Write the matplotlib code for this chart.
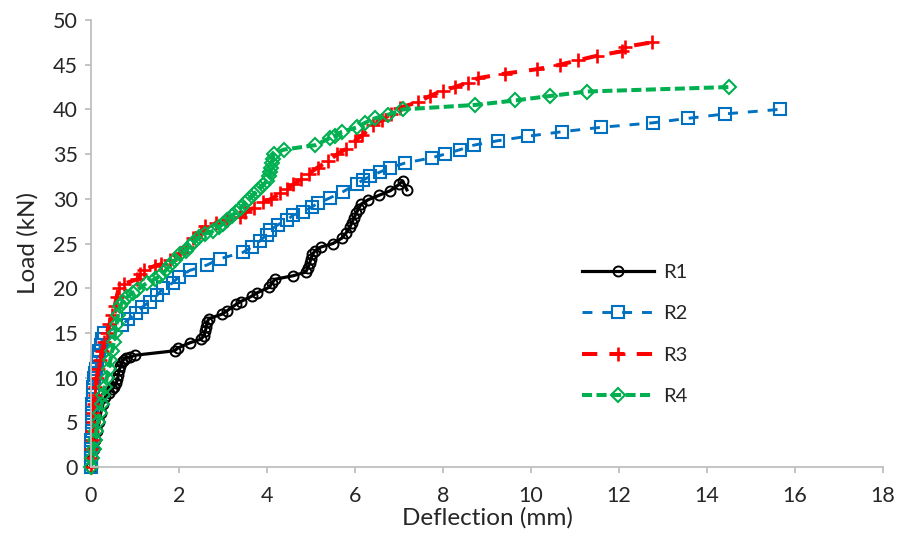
import matplotlib
matplotlib.use("Agg")
import matplotlib.pyplot as plt

plt.rcParams['font.family'] = ['Lato', 'DejaVu Sans']

# Load-deflection readings (deflection in mm, load in kN)
r1 = [(0, 0), (0.03, 1), (0.06, 2), (0.1, 3), (0.14, 4), (0.18, 5), (0.22, 6), (0.27, 7),
      (0.32, 7.8), (0.4, 8.3), (0.47, 8.7), (0.52, 9), (0.57, 9.4), (0.6, 9.8), (0.62, 10.3),
      (0.64, 10.8), (0.67, 11.3), (0.7, 11.7), (0.74, 12), (0.8, 12.2), (0.89, 12.3), (1.0, 12.5),
      (1.9, 13), (1.97, 13.3), (2.25, 13.9), (2.5, 14.3), (2.57, 14.7), (2.6, 15.2), (2.62, 15.7),
      (2.64, 16.2), (2.68, 16.6), (2.98, 17.1), (3.1, 17.5), (3.3, 18.2), (3.4, 18.5), (3.65, 19.1),
      (3.78, 19.5), (4.05, 20.1), (4.12, 20.6), (4.18, 21), (4.6, 21.4), (4.88, 21.8), (4.93, 22.3),
      (4.97, 22.8), (5.0, 23.3), (5.03, 23.8), (5.1, 24.2), (5.22, 24.6), (5.5, 25), (5.7, 25.6),
      (5.8, 26.2), (5.88, 26.8), (5.93, 27.3), (5.98, 27.9), (6.03, 28.4), (6.08, 28.9),
      (6.14, 29.4), (6.3, 29.9), (6.55, 30.4), (6.8, 30.9), (7.0, 31.6), (7.08, 32), (7.18, 31)]

r2 = [(0, 0), (0, 1), (0.01, 2), (0.01, 3), (0.02, 4), (0.02, 5), (0.03, 6), (0.03, 7),
      (0.04, 8), (0.05, 9), (0.07, 10), (0.09, 10.5), (0.11, 11), (0.13, 11.8), (0.16, 12.5),
      (0.19, 13), (0.22, 13.7), (0.26, 14.3), (0.3, 15), (0.7, 15.9), (0.85, 16.5), (1.02, 17.2),
      (1.17, 17.9), (1.33, 18.5), (1.5, 19.2), (1.64, 20), (1.86, 20.6), (2.0, 21.3), (2.25, 22),
      (2.64, 22.6), (2.93, 23.3), (3.45, 24), (3.66, 24.6), (3.84, 25.3), (4.0, 26), (4.07, 26.5),
      (4.25, 27.1), (4.45, 27.6), (4.6, 28.2), (4.82, 28.5), (5.02, 29.1), (5.16, 29.5),
      (5.43, 30.1), (5.73, 30.8), (6.05, 31.7), (6.18, 32.1), (6.34, 32.5), (6.57, 33),
      (6.8, 33.5), (7.14, 34), (7.75, 34.6), (8.05, 35), (8.39, 35.5), (8.7, 36), (9.25, 36.5),
      (9.93, 37), (10.7, 37.5), (11.6, 38), (12.77, 38.5), (13.57, 39), (14.42, 39.5), (15.65, 40)]

r3 = [(0, 0), (0, 1), (0.01, 2), (0.02, 3), (0.03, 4), (0.04, 5), (0.05, 6), (0.06, 7),
      (0.08, 8), (0.1, 9), (0.13, 10), (0.16, 11), (0.2, 12), (0.25, 13), (0.3, 14), (0.36, 15),
      (0.42, 16), (0.48, 17), (0.54, 18), (0.58, 19), (0.63, 20), (0.75, 20.5), (1.05, 21),
      (1.12, 21.6), (1.2, 22), (1.45, 22.5), (1.6, 22.7), (1.8, 23.2), (2.02, 23.9), (2.18, 24.6),
      (2.32, 25.6), (2.5, 26.3), (2.6, 27), (2.85, 27.3), (3.1, 27.6), (3.39, 28), (3.5, 28.5),
      (3.7, 29), (3.9, 29.6), (4.1, 30), (4.3, 30.6), (4.45, 31.1), (4.6, 31.6), (4.78, 32.2),
      (4.95, 32.8), (5.15, 33.5), (5.38, 34.2), (5.6, 35), (5.8, 35.6), (6.0, 36.5), (6.16, 37.1),
      (6.41, 38.2), (6.61, 38.8), (6.82, 39.5), (7.02, 40.2), (7.43, 40.8), (7.7, 41.5),
      (8.0, 42.1), (8.27, 42.5), (8.57, 43), (8.8, 43.5), (9.4, 44), (10.14, 44.5), (10.66, 45),
      (11.07, 45.5), (11.5, 46), (12.07, 46.5), (12.14, 47), (12.75, 47.5)]

r4 = [(0, 0), (0.03, 1), (0.06, 2), (0.09, 3), (0.12, 4), (0.16, 5), (0.2, 6), (0.24, 7),
      (0.28, 8), (0.32, 9), (0.36, 10), (0.4, 11), (0.44, 12), (0.48, 13), (0.52, 14), (0.55, 15),
      (0.58, 16), (0.61, 17), (0.66, 18), (0.72, 18.5), (0.82, 19), (0.95, 19.5), (1.05, 19.8),
      (1.27, 20.6), (1.45, 21), (1.57, 21.4), (1.7, 22), (1.8, 22.6), (1.92, 23.2), (2.02, 23.8),
      (2.15, 24.2), (2.25, 24.7), (2.35, 25.2), (2.45, 25.7), (2.6, 26.1), (2.77, 26.4),
      (2.9, 26.8), (3.0, 27.2), (3.1, 27.6), (3.2, 28.1), (3.3, 28.5), (3.4, 29), (3.5, 29.5),
      (3.6, 30), (3.7, 30.5), (3.8, 31), (3.9, 31.5), (4.0, 32), (4.05, 32.5), (4.07, 33),
      (4.09, 33.5), (4.11, 34), (4.13, 34.5), (4.15, 35), (4.38, 35.5), (5.1, 36), (5.43, 36.8),
      (5.55, 37), (5.7, 37.5), (6.05, 38), (6.23, 38.5), (6.45, 39), (6.75, 39.4), (7.09, 40),
      (8.73, 40.5), (9.64, 41), (10.43, 41.5), (11.27, 42), (14.5, 42.5)]

labels = ['R1', 'R2', 'R3', 'R4']
x_ticks = list(range(0, 19, 2))
y_ticks = list(range(0, 51, 5))

styles = [
    dict(color='black', lw=2.3, ls='-', marker='o', ms=7.2, mew=1.4),
    dict(color='#0070C0', lw=2.1, ls=(0, (3.4, 3.4)), marker='s', ms=8.0, mew=1.5),
    dict(color='#FF0000', lw=2.9, ls=(0, (3.8, 3.0)), marker='+', ms=9.5, mew=1.9),
    dict(color='#00B050', lw=2.9, ls=(0, (2.5, 1.1)), marker='D', ms=6.8, mew=1.5),
]

fig = plt.figure(figsize=(8.99, 5.33), dpi=100)
ax = fig.add_axes([91 / 899, 1 - 467 / 533, (883 - 91) / 899, (467 - 20) / 533])

for data, lab, st in zip([r1, r2, r3, r4], labels, styles):
    xs = [p[0] for p in data]
    ys = [p[1] for p in data]
    ax.plot(xs, ys, color=st['color'], lw=st['lw'], linestyle=st['ls'],
            marker=st['marker'], markersize=st['ms'], markeredgewidth=st['mew'],
            markerfacecolor='none', markeredgecolor=st['color'], label=lab, clip_on=False)

ax.set_xlim(0, 18)
ax.set_ylim(0, 50)
ax.set_xticks(x_ticks)
ax.set_yticks(y_ticks)

for side in ['top', 'right']:
    ax.spines[side].set_visible(False)
for side in ['left', 'bottom']:
    ax.spines[side].set_color('#bfbfbf')
    ax.spines[side].set_linewidth(1.3)

ax.tick_params(axis='both', direction='out', length=4.5, width=1.3, color='#bfbfbf',
               labelsize=15.5, labelcolor='#262626')
ax.tick_params(axis='x', pad=9)
ax.tick_params(axis='y', pad=5)

ax.set_xlabel('Deflection (mm)', fontsize=17.5, color='#262626', labelpad=1)
ax.set_ylabel('Load (kN)', fontsize=17.5, color='#262626', labelpad=10)

leg = ax.legend(loc='upper left', bbox_to_anchor=(0.61, 0.472), frameon=False,
                fontsize=14.5, handlelength=3.55, handletextpad=0.45, labelspacing=1.2,
                borderaxespad=0)
for t in leg.get_texts():
    t.set_color('#262626')

fig.savefig('out.png', dpi=100)
